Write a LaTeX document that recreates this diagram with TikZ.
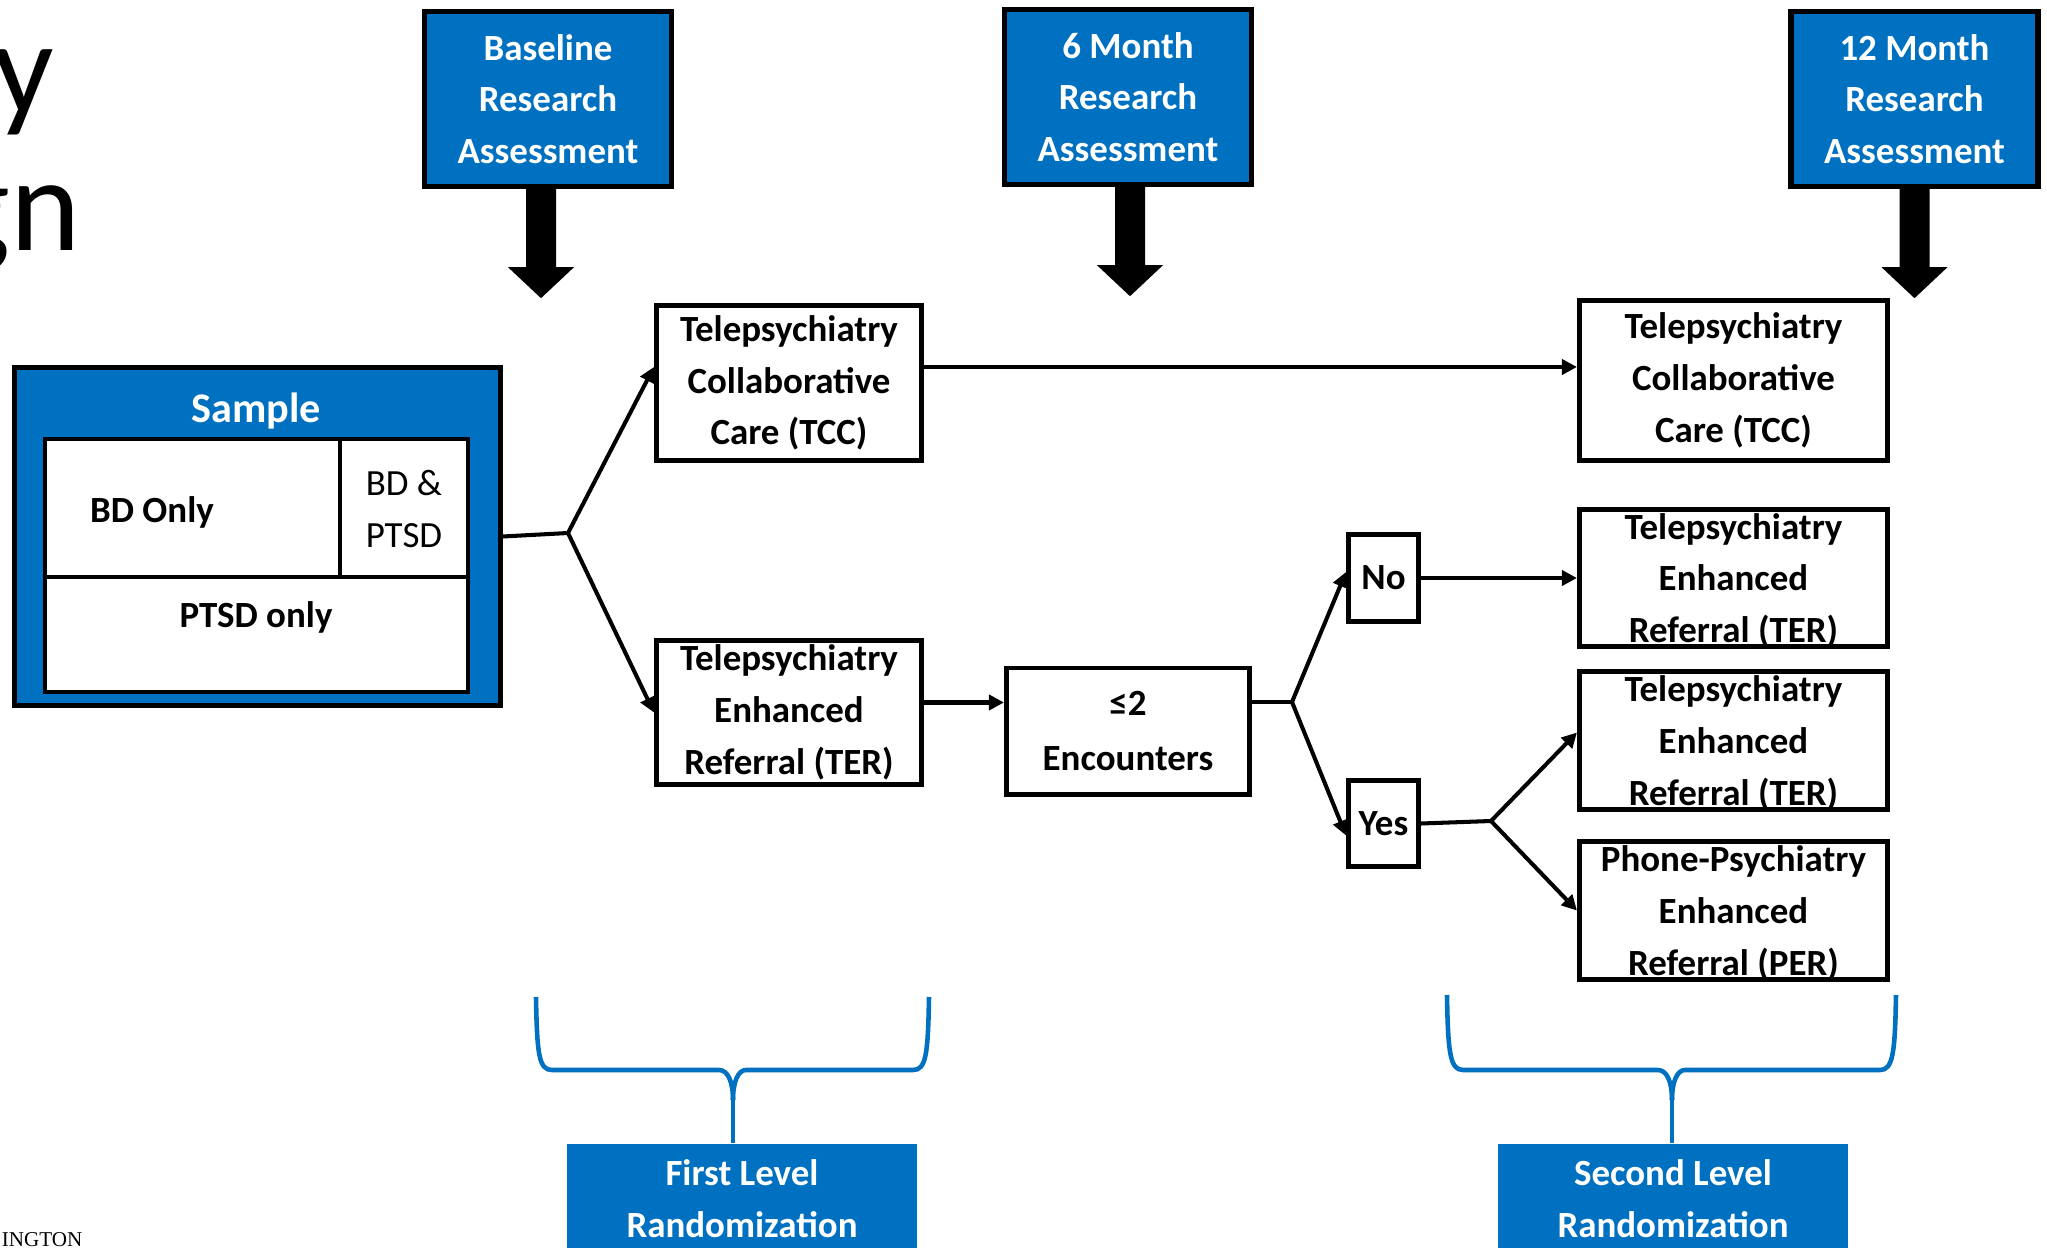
\documentclass[tikz,border=0pt]{standalone}
\usepackage{fontspec}
\setmainfont{Carlito}
\newfontfamily\footserif{Liberation Serif}
\usepackage{xcolor}
\usepackage{tikz}
\usetikzlibrary{arrows.meta, positioning}
\definecolor{officeblue}{HTML}{0070C0}

\begin{document}
\begin{tikzpicture}[x=0.01cm, y=-0.01cm,
    assess/.style={rectangle, draw=black, line width=1.5pt, fill=officeblue,
                   text=white, align=center, inner sep=0pt,
                   minimum width=2.47cm, minimum height=1.75cm,
                   font=\bfseries\fontsize{10.5}{14.7}\selectfont},
    arm/.style={rectangle, draw=black, line width=1.4pt, fill=white,
                align=center, inner sep=0pt,
                font=\bfseries\fontsize{10.5}{14.7}\selectfont},
    cell/.style={draw=black, line width=1.3pt, fill=white},
    rand/.style={rectangle, fill=officeblue, text=white, align=center,
                 inner sep=0pt, minimum width=3.50cm, minimum height=1.10cm,
                 font=\bfseries\fontsize{10.5}{14.7}\selectfont},
    link/.style={line width=1.15pt, -{Triangle[length=0.15cm, width=0.15cm]}},
    plain/.style={line width=1.15pt},
    brace/.style={draw=officeblue, line width=1.3pt},
]
    \useasboundingbox (0,0) rectangle (2047,1248);
    \clip (0,0) rectangle (2047,1248);

    % Cut-off slide text
    \node[anchor=base east, inner sep=0pt, font=\fontsize{38}{38}\selectfont]
        (titley) at (55,113) {y};
    \node[anchor=base east, inner sep=0pt, font=\fontsize{38}{38}\selectfont]
        (titlegn) at (81,250) {gn};
    \node[anchor=base east, inner sep=0pt, font=\footserif\fontsize{6}{7}\selectfont]
        (footer) at (83,1246) {INGTON};

    % Assessments
    \node[assess] (basehdr)   at (548,99)    {Baseline\\Research\\Assessment};
    \node[assess] (sixhdr)    at (1128,97)   {6 Month\\Research\\Assessment};
    \node[assess] (twelvehdr) at (1914.5,99) {12 Month\\Research\\Assessment};
    \foreach \hdr/\dx in {basehdr/-7, sixhdr/2, twelvehdr/0}
        \fill[black, shift={([xshift=\dx*0.01cm]\hdr.south)}]
            (-15,0) -- (-15,78) -- (-33,78) -- (0,109) -- (33,78) -- (15,78)
            -- (15,0) -- cycle;

    % Sample
    \node[rectangle, draw=black, line width=1.4pt, fill=officeblue,
          minimum width=4.85cm, minimum height=3.37cm] (sample) at (257.5,536.5) {};
    \filldraw[cell] (45,439) rectangle (340,577);
    \filldraw[cell] (340,439) rectangle (468,577);
    \filldraw[cell] (45,577) rectangle (468,692);
    \node[text=white, font=\bfseries\fontsize{12}{14}\selectfont] (samplelbl) at (256,411) {Sample};
    \node[font=\bfseries\fontsize{10.5}{14.7}\selectfont] (bdonly) at (152,512) {BD Only};
    \node[align=center, font=\fontsize{10.5}{14.7}\selectfont] (bdptsd) at (404,509) {BD \&\\PTSD};
    \node[font=\bfseries\fontsize{10.5}{14.7}\selectfont] (ptsdonly) at (256,617) {PTSD only};

    % Treatment arms
    \node[arm, minimum width=2.65cm, minimum height=1.55cm] (tcc1) at (789,383)
        {Telepsychiatry\\Collaborative\\Care (TCC)};
    \node[arm, minimum width=2.65cm, minimum height=1.44cm] (ter1) at (789,712.5)
        {Telepsychiatry\\Enhanced\\Referral (TER)};
    \node[arm, minimum width=2.43cm, minimum height=1.26cm] (enc) at (1128,731)
        {≤2\\[1pt]Encounters};
    \node[arm, minimum width=0.70cm, minimum height=0.87cm] (no)  at (1383.5,578) {No};
    \node[arm, minimum width=0.70cm, minimum height=0.86cm] (yes) at (1383.5,823.5) {Yes};
    \node[arm, minimum width=3.08cm, minimum height=1.60cm] (tcc2) at (1733.5,380.5)
        {Telepsychiatry\\Collaborative\\Care (TCC)};
    \node[arm, minimum width=3.08cm, minimum height=1.37cm] (ter2) at (1733.5,578)
        {Telepsychiatry\\Enhanced\\\raisebox{0pt}[\height][0pt]{Referral (TER)}};
    \node[arm, minimum width=3.08cm, minimum height=1.38cm] (ter3) [below=0.2cm of ter2]
        {Telepsychiatry\\Enhanced\\\raisebox{0pt}[\height][0pt]{Referral (TER)}};
    \node[arm, minimum width=3.08cm, minimum height=1.38cm] (per) [below=0.27cm of ter3]
        {Phone-Psychiatry\\Enhanced\\\raisebox{0pt}[\height][0pt]{Referral (PER)}};

    % Edges
    \coordinate (split1) at (568,533);
    \coordinate (split2) at (1292,702);
    \coordinate (split3) at (1491,821);
    \draw[plain] (sample.east) -- (split1);
    \draw[link] (split1) -- ([yshift=0.16cm]tcc1.west);
    \draw[link] (split1) -- (ter1.west);
    \draw[link] ([yshift=0.16cm]tcc1.east) -- ([yshift=0.16cm]tcc1.east -| tcc2.west);
    \draw[link] ([yshift=0.1cm]ter1.east) -- ([yshift=0.1cm]ter1.east -| enc.west);
    \draw[plain] (split2 -| enc.east) -- (split2);
    \draw[link] (split2) -- ([yshift=0.06cm]no.west);
    \draw[link] (split2) -- ([yshift=-0.12cm]yes.west);
    \draw[link] (no.east) -- (ter2.west);
    \draw[plain] (yes.east) -- (split3);
    \draw[link] (split3) -- ([yshift=0.08cm]ter3.west);
    \draw[link] (split3) -- (per.west);

    % Randomization
    \node[rand] (rand1) at (742,1199)  {First Level\\Randomization};
    \node[rand] (rand2) at (1673,1199) {Second Level\\Randomization};
    \coordinate (cusp1) at (733,1100);
    \coordinate (cusp2) at (1672,1100);
    \draw[brace] (536,997) .. controls (537,1055) and (539,1070) .. (552,1070)
        -- (719,1070) .. controls (728,1070) and (733,1082) .. (cusp1);
    \draw[brace] (929,997) .. controls (928,1055) and (926,1070) .. (913,1070)
        -- (746,1070) .. controls (738,1070) and (733,1082) .. (cusp1);
    \draw[brace] (cusp1) -- (cusp1 |- rand1.north);
    \draw[brace] (1447,995) .. controls (1448,1053) and (1450,1070) .. (1463,1070)
        -- (1658,1070) .. controls (1667,1070) and (1672,1082) .. (cusp2);
    \draw[brace] (1896,995) .. controls (1895,1053) and (1893,1070) .. (1880,1070)
        -- (1685,1070) .. controls (1677,1070) and (1672,1082) .. (cusp2);
    \draw[brace] (cusp2) -- (cusp2 |- rand2.north);
\end{tikzpicture}
\end{document}
